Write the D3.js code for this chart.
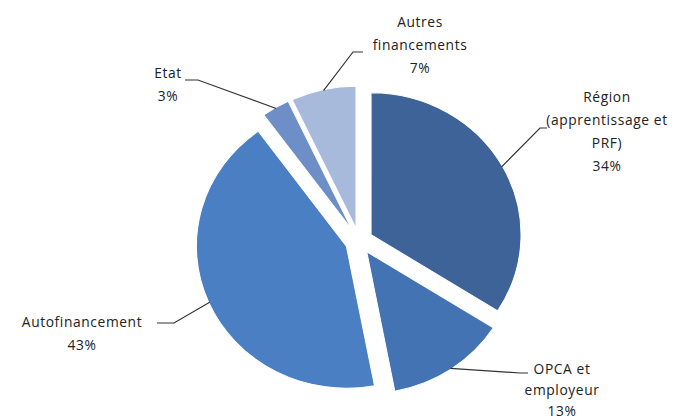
<!DOCTYPE html>
<html>
<head>
<meta charset="utf-8">
<script src="https://cdn.jsdelivr.net/npm/d3@7"></script>
<style>
  html, body { margin: 0; padding: 0; background: #fff; }
  svg { display: block; }
  text { font-family: "Open Sans", "Noto Sans", sans-serif; font-size: 13.8px; fill: #222; letter-spacing: 0.6px; }
</style>
</head>
<body>
<svg id="chart" width="700" height="419"></svg>
<script>
// ---- data ----
const categories = ["Région (apprentissage et PRF)", "OPCA et employeur", "Autofinancement", "Etat", "Autres financements"];
const values = [34, 13, 43, 3, 7];
const labelLines = [
  ["Région", "(apprentissage et", "PRF)", "34%"],
  ["OPCA et", "employeur", "13%"],
  ["Autofinancement", "43%"],
  ["Etat", "3%"],
  ["Autres", "financements", "7%"]
];
const colors = ["#3d6399", "#4373b3", "#4b7fc4", "#6d8ec7", "#a7badb"];

// ---- layout ----
const cx = 359, cy = 241;
const r = 142, sx = 150 / 142, explode = 13;
// label layout: [text centre x, first baseline y, elbow x, elbow y, end x, line height]
const labelLayout = [
  [607, 102, 540, 128, 547, 23],
  [562, 374, 520, 373, 528, 21],
  [82, 327, 174, 323, 157, 23],
  [168, 78, 198, 80, 185, 23],
  [420, 27, 353, 52, 363, 23]
];

const svg = d3.select("#chart");
const pie = d3.pie().sort(null).value(d => d)(values);
const arc = d3.arc().innerRadius(0).outerRadius(r);

const g = svg.append("g").attr("transform", `translate(${cx},${cy}) scale(${sx},1)`);
g.selectAll("path").data(pie).join("path")
  .attr("d", arc)
  .attr("fill", (d, i) => colors[i])
  .attr("stroke", "#fff")
  .attr("stroke-width", 1)
  .attr("transform", d => {
    const a = (d.startAngle + d.endAngle) / 2;
    return `translate(${explode * Math.sin(a)},${-explode * Math.cos(a)})`;
  });

// leader lines and labels
pie.forEach((d, i) => {
  const a = (d.startAngle + d.endAngle) / 2;
  const R = r + explode - 1;
  const px = cx + R * Math.sin(a) * sx;
  const py = cy - R * Math.cos(a);
  const L = labelLayout[i];
  svg.append("polyline")
    .attr("points", `${px},${py} ${L[2]},${L[3]} ${L[4]},${L[3]}`)
    .attr("fill", "none")
    .attr("stroke", "#333")
    .attr("stroke-width", 1.2);
  const t = svg.append("text").attr("text-anchor", "middle");
  labelLines[i].forEach((s, k) => {
    t.append("tspan").attr("x", L[0]).attr("y", L[1] + k * L[5]).text(s);
  });
});
</script>
</body>
</html>
